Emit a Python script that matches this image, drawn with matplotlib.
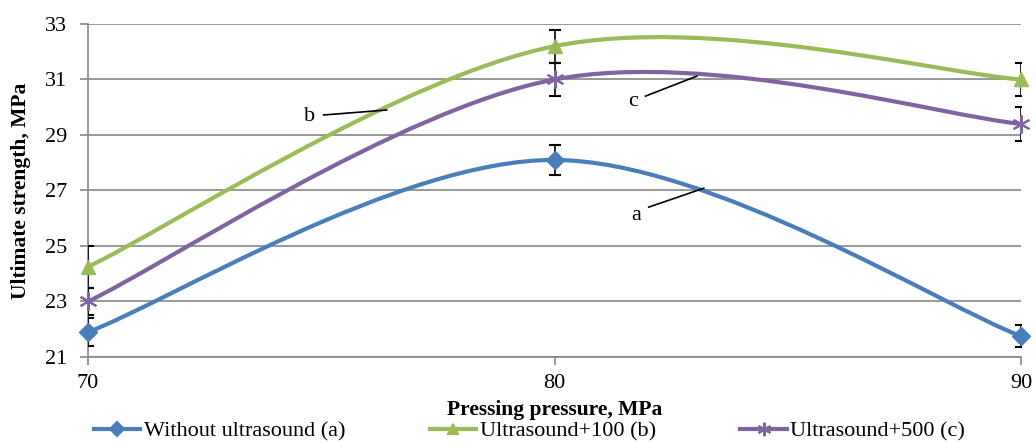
import matplotlib.pyplot as plt
from matplotlib.path import Path
from matplotlib.patches import PathPatch
from matplotlib.lines import Line2D

plt.rcParams['font.family'] = ['Liberation Serif', 'DejaVu Serif']

# Pressing pressure, MPa
pressure = [70, 80, 90]

# Ultimate strength, MPa
without_us = [21.9, 28.1, 21.75]
us_100 = [24.25, 32.2, 31.0]
us_500 = [23.0, 31.0, 29.4]

# Error bar half-widths
err_a = [0.5, 0.55, 0.4]
err_b = [0.75, 0.6, 0.6]
err_c = [0.5, 0.6, 0.6]

labels = ['Without ultrasound (a)', 'Ultrasound+100 (b)', 'Ultrasound+500 (c)']
colors = ['#4A7EBB', '#9BBB59', '#8064A2']
markers = ['D', '^', (6, 2, 0)]
msizes = [9, 10, 13]

y_ticks = [21, 23, 25, 27, 29, 31, 33]


def smooth_path(xs, ys):
    # Excel-like smoothed line: cubic Bezier segments through the points
    pts = list(zip(xs, ys))
    n = len(pts)
    verts = [pts[0]]
    codes = [Path.MOVETO]
    for i in range(n - 1):
        p0 = pts[max(i - 1, 0)]
        p1 = pts[i]
        p2 = pts[i + 1]
        p3 = pts[min(i + 2, n - 1)]
        c1 = (p1[0] + (p2[0] - p0[0]) / 6, p1[1] + (p2[1] - p0[1]) / 6)
        c2 = (p2[0] - (p3[0] - p1[0]) / 6, p2[1] - (p3[1] - p1[1]) / 6)
        verts += [c1, c2, p2]
        codes += [Path.CURVE4] * 3
    return Path(verts, codes)


fig = plt.figure(figsize=(10.36, 4.44), dpi=100)
ax = fig.add_axes([0.085, 0.196, 0.9005, 0.75])

series = [without_us, us_100, us_500]
errs = [err_a, err_b, err_c]
handles = []
for vals, err, col, mk, ms, lab in zip(series, errs, colors, markers, msizes, labels):
    ax.add_patch(PathPatch(smooth_path(pressure, vals), fill=False,
                           edgecolor=col, lw=3, zorder=3, capstyle='round'))
    ax.errorbar(pressure, vals, yerr=err, fmt='none', ecolor='black',
                elinewidth=1.2, capsize=4, capthick=1.5, zorder=4)
    if mk == (6, 2, 0):
        ax.plot(pressure, vals, linestyle='none', marker=mk, markersize=ms,
                markeredgecolor=col, markeredgewidth=1.5, zorder=5, clip_on=False)
    else:
        ax.plot(pressure, vals, linestyle='none', marker=mk, markersize=ms,
                color=col, markeredgecolor=col, zorder=5, clip_on=False)
    handles.append(Line2D([], [], color=col, lw=3, marker=mk, markersize=ms * 0.75,
                          markeredgecolor=col, markeredgewidth=1.5))

# curve labels with leader lines
ax.text(74.75, 29.65, 'b', fontsize=16, ha='center', va='center')
ax.plot([75.05, 76.4], [29.72, 29.9], color='black', lw=1.2, zorder=6)
ax.text(81.68, 30.2, 'c', fontsize=16, ha='center', va='center')
ax.plot([81.95, 83.05], [30.4, 31.12], color='black', lw=1.2, zorder=6)
ax.text(81.75, 26.1, 'a', fontsize=16, ha='center', va='center')
ax.plot([82.02, 83.2], [26.4, 27.08], color='black', lw=1.2, zorder=6)

ax.set_xlim(70, 90)
ax.set_ylim(21, 33)
ax.set_xticks(pressure)
ax.set_yticks(y_ticks)
ax.tick_params(axis='both', labelsize=16, color='#868686', length=6, width=1.2)
ax.tick_params(axis='y', pad=9)
ax.tick_params(axis='x', pad=6)
ax.yaxis.grid(True, color='#868686', lw=1.2)
ax.set_axisbelow(True)
for s in ['top', 'right']:
    ax.spines[s].set_visible(False)
for s in ['left', 'bottom']:
    ax.spines[s].set_color('#868686')
    ax.spines[s].set_linewidth(1.2)

ax.set_xlabel('Pressing pressure, MPa', fontsize=15.5, fontweight='bold', labelpad=5)
ax.set_ylabel('Ultimate strength, MPa', fontsize=15.5, fontweight='bold', labelpad=10)

fig.legend(handles=handles, labels=labels, loc='center', ncol=3,
           frameon=False, fontsize=16, bbox_to_anchor=(0.511, 0.029),
           handlelength=2.1, columnspacing=3.8, handletextpad=0.15)

fig.savefig('out.png', dpi=100)
